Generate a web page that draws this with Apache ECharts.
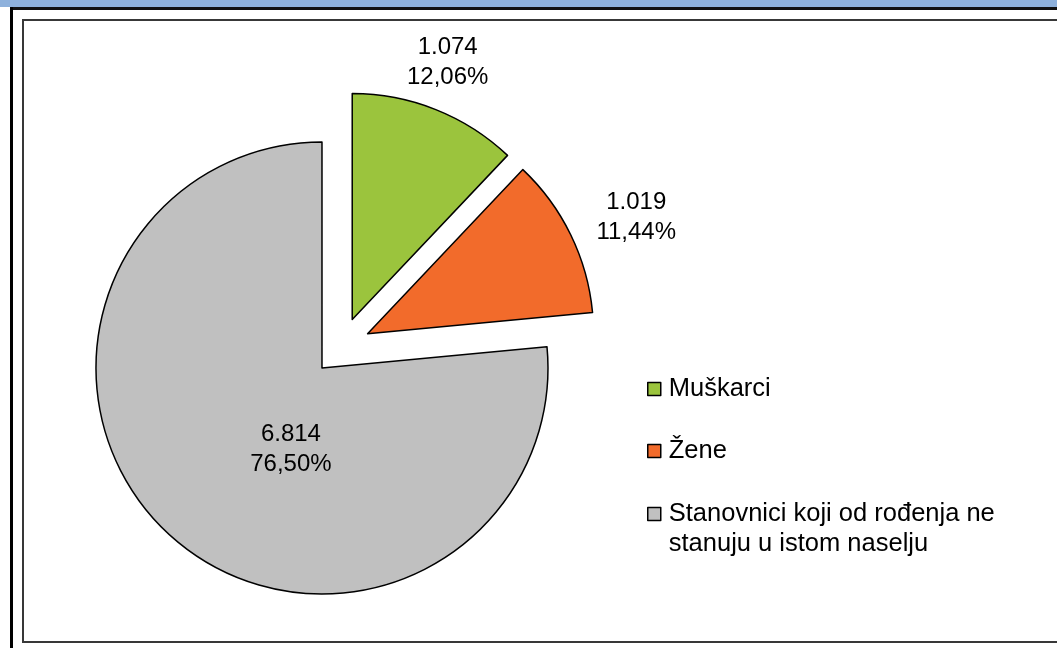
<!DOCTYPE html>
<html><head><meta charset="utf-8">
<script src="https://cdn.jsdelivr.net/npm/echarts@6/dist/echarts.min.js"></script>
<style>html,body{margin:0;padding:0;background:#fff}#c{width:1057px;height:648px}</style>
</head><body><div id="c"></div>
<script>
// ---- data ----
const categories = ['Muškarci', 'Žene', 'Stanovnici koji od rođenja ne stanuju u istom naselju'];
const values = [1074, 1019, 6814];
const legendLabels = ['Muškarci', 'Žene', '\nStanovnici koji od rođenja ne\nstanuju u istom naselju'];
const colors = ['#9BC43D', '#F26B2B', '#C0C0C0'];

// ---- style constants ----
const FONT = "'Liberation Sans', Arial, sans-serif";
const labelLen = [51, 54, 0];
const labelShift = [[-7, 0], [17, 6], [47, -4]];

const total = values.reduce((a, b) => a + b, 0);
function fmtInt(v) { return String(v).replace(/\B(?=(\d{3})+(?!\d))/g, '.'); }
function fmtPct(v) { return (v / total * 100).toFixed(2).replace('.', ',') + '%'; }

const chart = echarts.init(document.getElementById('c'), null, {renderer: 'canvas'});
chart.setOption({
  animation: false,
  backgroundColor: '#fff',
  graphic: [
    {type: 'rect', shape: {x: 0, y: 0, width: 1057, height: 7}, style: {fill: '#8EB1DC'}, silent: true},
    {type: 'rect', shape: {x: 10, y: 7, width: 1047, height: 3}, style: {fill: '#111'}, silent: true},
    {type: 'rect', shape: {x: 10, y: 7, width: 3, height: 641}, style: {fill: '#000'}, silent: true},
    {type: 'rect', shape: {x: 23, y: 20, width: 1100, height: 622}, style: {fill: 'none', stroke: '#383838', lineWidth: 2}, silent: true}
  ],
  legend: [
    {
      data: categories.slice(0, 2), orient: 'vertical', left: 647, top: 374, padding: 0,
      itemGap: 32, itemWidth: 13, itemHeight: 13, icon: 'rect', selectedMode: false,
      itemStyle: {borderColor: '#000', borderWidth: 1.5},
      textStyle: {fontFamily: FONT, fontSize: 25.5, lineHeight: 30, color: '#000', padding: [0, 0, 0, 3]},
      formatter: n => legendLabels[categories.indexOf(n)]
    },
    {
      data: categories.slice(2), orient: 'vertical', left: 647, top: 469, padding: 0,
      itemWidth: 13, itemHeight: 13, icon: 'rect', selectedMode: false,
      itemStyle: {borderColor: '#000', borderWidth: 1.5},
      textStyle: {fontFamily: FONT, fontSize: 25.5, lineHeight: 30, color: '#000', padding: [0, 0, 0, 3]},
      formatter: n => legendLabels[categories.indexOf(n)]
    }
  ],
  series: [{
    type: 'pie',
    center: [341.5, 346.5],
    radius: 226,
    startAngle: 90,
    clockwise: true,
    selectedMode: 'multiple',
    selectedOffset: 29,
    avoidLabelOverlap: false,
    emphasis: {disabled: true},
    itemStyle: {borderColor: '#000', borderWidth: 1.5},
    label: {
      show: true, position: 'outside', distanceToLabelLine: 0,
      fontFamily: FONT, fontSize: 24, lineHeight: 30, color: '#000',
      formatter: p => fmtInt(p.value) + '\n' + fmtPct(p.value)
    },
    labelLine: {show: false, length: 40, length2: 0},
    labelLayout: p => ({align: 'center', verticalAlign: 'middle', dx: labelShift[p.dataIndex][0], dy: labelShift[p.dataIndex][1]}),
    data: values.map((v, i) => ({
      value: v, name: categories[i], selected: true,
      itemStyle: {color: colors[i]},
      label: i === 2 ? {position: 'inside'} : {},
      labelLine: {length: labelLen[i], length2: 0}
    }))
  }]
});
</script></body></html>
